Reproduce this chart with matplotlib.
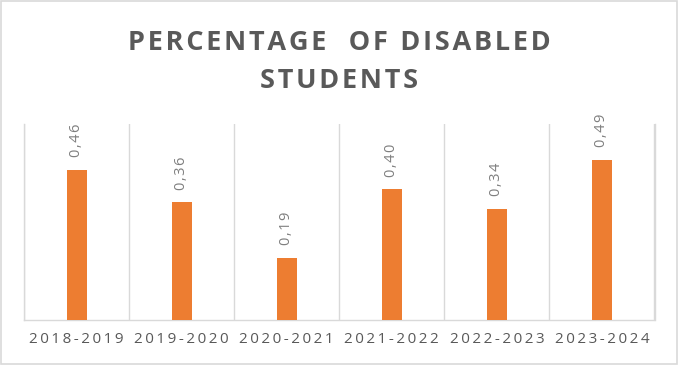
import matplotlib.pyplot as plt
import numpy as np
from matplotlib.patches import Rectangle

years = ['2018-2019', '2019-2020', '2020-2021', '2021-2022', '2022-2023', '2023-2024']
values = [0.46, 0.36, 0.19, 0.40, 0.34, 0.49]
labels = ['0,46', '0,36', '0,19', '0,40', '0,34', '0,49']

title_lines = ['PERCENTAGE  OF DISABLED', 'STUDENTS']

bar_color = '#ED7D31'
grid_color = '#D9D9D9'
text_color = '#595959'
label_color = '#7F7F7F'

plt.rcParams['font.family'] = ['Open Sans', 'DejaVu Sans']


def spaced(s, sep='\u200a'):
    # fake the letter spacing excel uses
    return sep.join(s)


fig = plt.figure(figsize=(6.79, 3.65), dpi=100)
ax = fig.add_axes([24 / 679, 45.5 / 365, 630.5 / 679, 195.5 / 365])

x = np.arange(len(years))
bars = ax.bar(x, values, width=0.19, color=bar_color, zorder=3)

for xi, v, lab in zip(x, values, labels):
    ax.annotate(spaced(lab), (xi, v), xytext=(0, 9), textcoords='offset points',
                rotation=90, ha='center', va='bottom', fontsize=10.5, color=label_color)

ax.set_xlim(-0.5, len(years) - 0.5)
ax.set_ylim(0, 0.6)
ax.set_xticks(x)
ax.set_xticklabels([spaced(y, '\u2009') for y in years], fontsize=11, color=text_color)
ax.set_xticks(np.arange(len(years) + 1) - 0.5, minor=True)
ax.tick_params(axis='x', which='both', length=0, pad=9)
ax.set_yticks([])
ax.grid(True, axis='x', which='minor', color=grid_color, lw=1, zorder=0)

for side in ['left', 'right', 'bottom']:
    ax.spines[side].set_color(grid_color)
    ax.spines[side].set_linewidth(1)
ax.spines['top'].set_visible(False)

fig.text(0.5, 1 - 50 / 365, spaced(title_lines[0]), ha='center', va='baseline',
         fontsize=19.5, fontweight='bold', color=text_color)
fig.text(0.5, 1 - 88 / 365, spaced(title_lines[1]), ha='center', va='baseline',
         fontsize=19.5, fontweight='bold', color=text_color)

fig.patches.append(Rectangle((0.002, 0.003), 0.995, 0.994, transform=fig.transFigure,
                             fill=False, edgecolor=grid_color, lw=1.2))

fig.savefig('out.png', dpi=100)
